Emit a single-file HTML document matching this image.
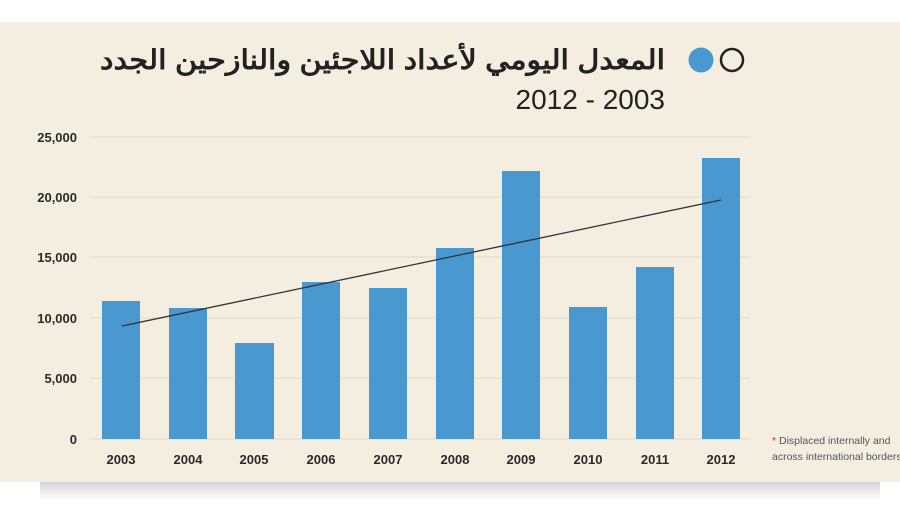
<!DOCTYPE html>
<html><head><meta charset="utf-8"><style>
html,body{margin:0;padding:0;background:#fff;width:900px;height:505px;overflow:hidden}
</style></head><body>
<svg width="900" height="505" xmlns="http://www.w3.org/2000/svg">
<defs>
<linearGradient id="sh" x1="0" y1="0" x2="0" y2="1">
<stop offset="0" stop-color="#c8c8c8"/><stop offset="1" stop-color="#fff"/>
</linearGradient>
</defs>
<rect x="0" y="0" width="900" height="505" fill="#fff"/>
<rect x="40" y="482" width="840" height="18" fill="url(#sh)" opacity="0.8"/>
<rect x="0" y="22" width="900" height="460" fill="#f4eee0"/>
<g stroke="#e8e0cc" stroke-width="1.5">
<line x1="90" y1="137" x2="750" y2="137"/>
<line x1="90" y1="197" x2="750" y2="197"/>
<line x1="90" y1="257" x2="750" y2="257"/>
<line x1="90" y1="318" x2="750" y2="318"/>
<line x1="90" y1="378" x2="750" y2="378"/>
<line x1="90" y1="439" x2="750" y2="439"/>
</g>
<g font-family="Liberation Sans, sans-serif" font-weight="bold" font-size="13" fill="#2a2a2a" text-anchor="end">
<text x="77" y="142">25,000</text>
<text x="77" y="202">20,000</text>
<text x="77" y="262">15,000</text>
<text x="77" y="323">10,000</text>
<text x="77" y="383">5,000</text>
<text x="77" y="444">0</text>
</g>
<g fill="#4a98d0">
<rect x="102" y="301" width="38" height="138"/>
<rect x="169" y="308" width="38" height="131"/>
<rect x="235" y="343" width="39" height="96"/>
<rect x="302" y="282" width="38" height="157"/>
<rect x="369" y="288" width="38" height="151"/>
<rect x="436" y="248" width="38" height="191"/>
<rect x="502" y="171" width="38" height="268"/>
<rect x="569" y="307" width="38" height="132"/>
<rect x="636" y="267" width="38" height="172"/>
<rect x="702" y="158" width="38" height="281"/>
</g>
<line x1="122" y1="326" x2="721" y2="200" stroke="#333" stroke-width="1.3"/>
<g font-family="Liberation Sans, sans-serif" font-weight="bold" font-size="13" fill="#2a2a2a" text-anchor="middle">
<text x="121" y="464">2003</text><text x="188" y="464">2004</text><text x="254" y="464">2005</text>
<text x="321" y="464">2006</text><text x="388" y="464">2007</text><text x="455" y="464">2008</text>
<text x="521" y="464">2009</text><text x="588" y="464">2010</text><text x="655" y="464">2011</text>
<text x="721" y="464">2012</text>
</g>
<g font-family="Liberation Sans, sans-serif" font-size="10.5" fill="#555">
<text x="772" y="444"><tspan fill="#c33">*</tspan> Displaced internally and</text>
<text x="772" y="460">across international borders</text>
</g>
<circle cx="732" cy="60" r="11" fill="none" stroke="#222" stroke-width="2.5"/>
<circle cx="701" cy="60" r="12.5" fill="#4a98d0"/>
<text x="665" y="69" text-anchor="start" direction="rtl" font-family="Liberation Sans, 'Noto Sans CJK SC', sans-serif" font-weight="bold" font-size="27" fill="#222" textLength="565" lengthAdjust="spacingAndGlyphs">المعدل اليومي لأعداد اللاجئين والنازحين الجدد</text>
<text x="665" y="109" text-anchor="end" font-family="Liberation Sans, sans-serif" font-size="28" fill="#222">2012 - 2003</text>
</svg>
</body></html>
